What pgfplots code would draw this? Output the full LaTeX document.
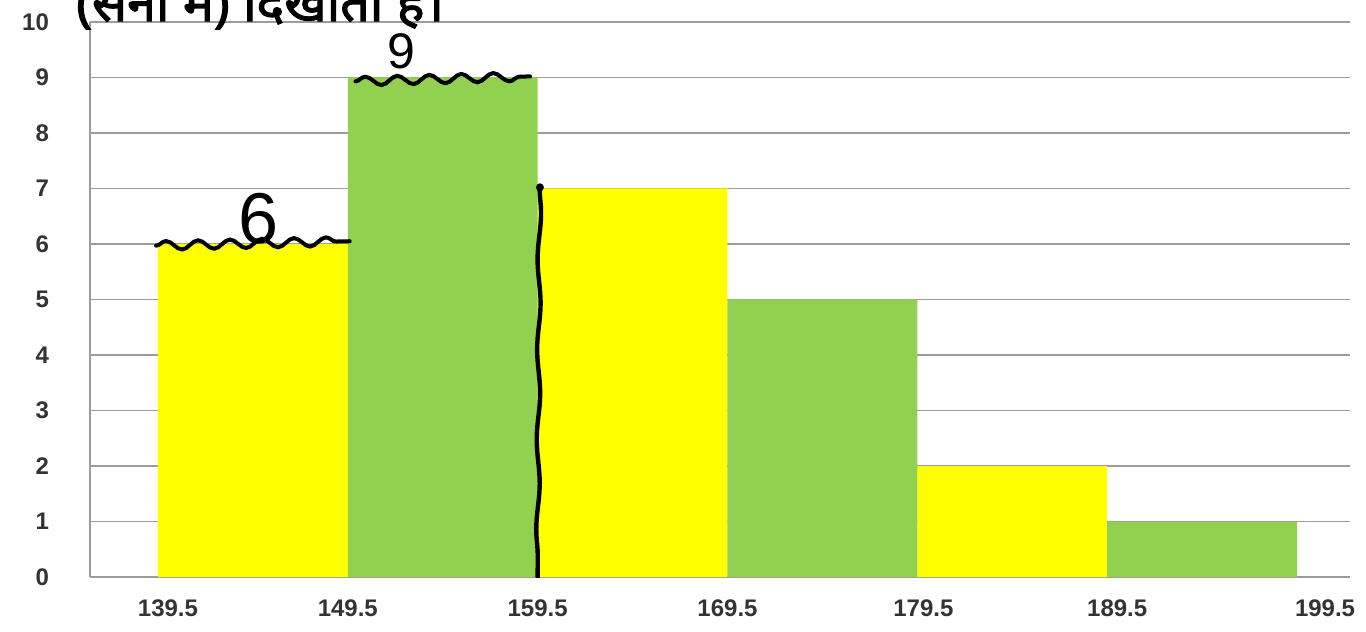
\documentclass[border=0pt]{standalone}
\usepackage{fontspec}
\setmainfont{Liberation Sans}
\newfontfamily\hindi[Script=Devanagari, AutoFakeBold=2.2]{Noto Sans}
\usepackage{pgfplots}
\pgfplotsset{compat=1.18}
\usetikzlibrary{calc,decorations.pathmorphing}
\definecolor{barYellow}{HTML}{FFFF00}
\definecolor{barGreen}{HTML}{92D050}
\definecolor{gridGray}{HTML}{9C9C9C}
\definecolor{tickGray}{HTML}{333333}

\begin{document}
\begin{tikzpicture}
\begin{axis}[
  name=ax, scale only axis,
  width=630pt, height=277.5pt,
  xmin=135.92, xmax=202.29, ymin=0, ymax=10,
  axis x line=bottom, axis y line=left,
  axis line style={gridGray, line width=1pt, -},
  xtick={139.5,149.5,159.5,169.5,179.5,189.5,199.5},
  xticklabels={\hspace{10pt}139.5,149.5,159.5,\raisebox{-2pt}{169.5},\hspace{6pt}179.5,\raisebox{-5pt}{\hspace{10pt}189.5},\raisebox{-7pt}{\hspace{28pt}199.5}},
  ytick={0,1,2,3,4,5,6,7,8,9,10},
  ymajorgrids, grid style={gridGray, line width=0.9pt},
  major tick length=0pt,
  tick label style={font=\bfseries\fontsize{12}{14}\selectfont, text=tickGray},
  /pgf/number format/assume math mode=true,
  yticklabel style={xshift=-17pt},
  xticklabel style={yshift=-8pt},
  ybar, bar width=10,
]
% yellow classes
\addplot[fill=barYellow, draw=none, bar shift=0pt] coordinates {(144.5,6)(164.5,7)(184.5,2)};
% green classes
\addplot[fill=barGreen, draw=none, bar shift=0pt] coordinates {(154.5,9)(174.5,5)(194.5,1)};

% handwritten marks
\draw[black, line width=2pt, line cap=round, decorate, decoration={snake, amplitude=2.2pt, segment length=16pt}]
  (axis cs:139.4,5.97) -- (axis cs:149.6,6.05);
\draw[black, line width=2pt, line cap=round, decorate, decoration={snake, amplitude=2.2pt, segment length=16pt}]
  (axis cs:149.9,8.93) -- (axis cs:159.1,9.02);
\draw[black, line width=2.2pt, line cap=round, decorate, decoration={snake, amplitude=0.8pt, segment length=45pt}]
  (axis cs:159.6,7.05) -- (axis cs:159.5,0);
\fill[black] (axis cs:159.62,7.02) circle (2pt);
\node[font=\fontsize{36}{40}\selectfont, inner sep=0] at (axis cs:144.8,6.45) {6};
\node[font=\fontsize{25}{28}\selectfont, inner sep=0] at (axis cs:152.3,9.47) {9};
\end{axis}
\node[anchor=base west, inner sep=0, font=\hindi\bfseries\fontsize{26}{30}\selectfont]
  at ($(ax.south west)+(-7pt,278pt)$) {(सेना में) दिखाता है।};
\pgfresetboundingbox
\path[use as bounding box] ($(ax.south west)+(-45pt,-27.5pt)$) rectangle ($(ax.south west)+(638pt,288.5pt)$);
\end{tikzpicture}
\end{document}
